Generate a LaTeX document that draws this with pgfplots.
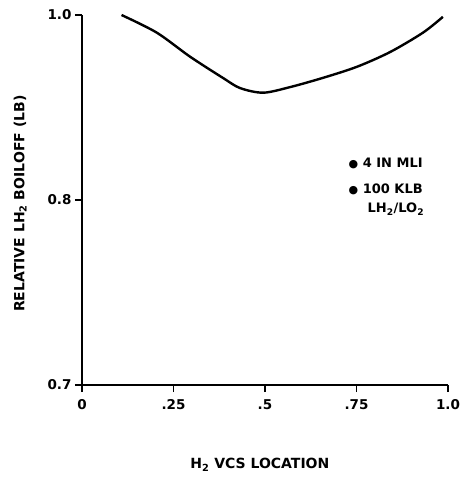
\documentclass[border=0pt]{standalone}
\usepackage{fontspec}
\setmainfont{DejaVu Sans}
\usepackage{pgfplots}
\pgfplotsset{compat=1.18}

\begin{document}
\begin{tikzpicture}
  \begin{axis}[
      scale only axis,
      width=366pt, height=370pt,
      xmin=0, xmax=1.0,
      ymin=0.6, ymax=1.0,
      axis lines=left,
      axis line style={-, line width=1.4pt},
      tick align=outside,
      major tick length=7pt,
      tick style={line width=1.2pt, black},
      xtick={0,0.25,0.5,0.75,1.0},
      xticklabels={0,.25,.5,.75,1.0},
      ytick={0.6,0.8,1.0},
      yticklabels={0.7,0.8,1.0},
      tick label style={font=\fontsize{13.5}{15}\selectfont\bfseries},
      xticklabel style={yshift=-4pt},
      xlabel={H\textsubscript{2} VCS LOCATION},
      ylabel={RELATIVE LH\textsubscript{2} BOILOFF (LB)},
      label style={font=\fontsize{14}{16}\selectfont\bfseries},
      xlabel style={at={(axis description cs:0.486,-0.216)}, anchor=center},
      ylabel style={at={(axis description cs:-0.169,0.49)}, anchor=center},
      clip=false,
    ]
    \addplot[black, line width=2.4pt, smooth] coordinates {
        (0.108,1.000)(0.204,0.981)(0.295,0.955)(0.385,0.932)
        (0.432,0.921)(0.495,0.916)(0.568,0.922)(0.658,0.932)
        (0.751,0.944)(0.842,0.960)(0.932,0.981)(0.986,0.998)
      };
    \node[anchor=west, font=\fontsize{13}{15}\selectfont\bfseries, inner sep=0pt]
      at (axis cs:0.728,0.839) {{\fontsize{11}{13}\selectfont ●}\ 4 IN MLI};
    \node[anchor=west, font=\fontsize{13}{15}\selectfont\bfseries, inner sep=0pt]
      at (axis cs:0.728,0.811) {{\fontsize{11}{13}\selectfont ●}\ 100 KLB};
    \node[anchor=west, font=\fontsize{13}{15}\selectfont\bfseries, inner sep=0pt]
      at (axis cs:0.780,0.790) {LH\textsubscript{2}/LO\textsubscript{2}};
  \end{axis}
  \useasboundingbox (current axis.south west) ++(-82pt,-94pt) rectangle ++(461pt,479pt);
\end{tikzpicture}
\end{document}
